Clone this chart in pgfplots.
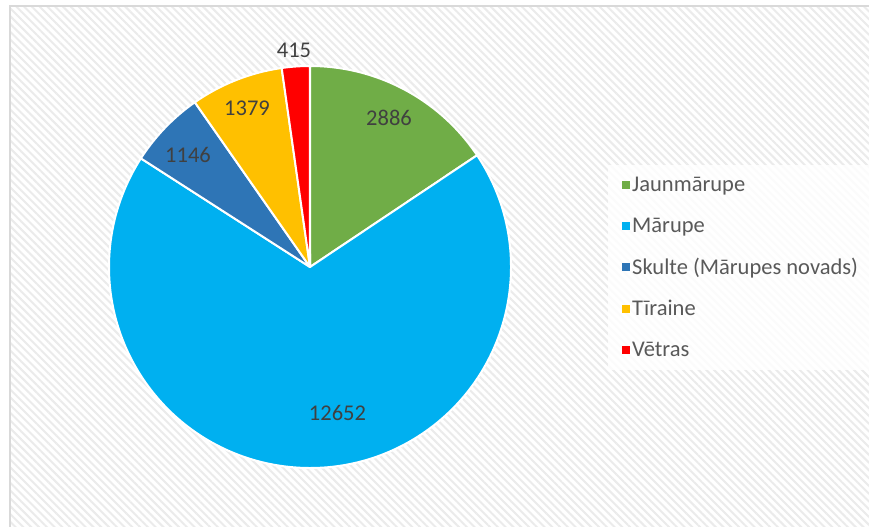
\documentclass[border=0pt]{standalone}
\usepackage{pgfplots}
\pgfplotsset{compat=1.18}
\usepackage{pgfplotstable}
\usepackage{fontspec}
\setmainfont{Carlito}
\usetikzlibrary{patterns.meta}
\definecolor{c0}{HTML}{70AD47}
\definecolor{c1}{HTML}{00B0F0}
\definecolor{c2}{HTML}{2E75B6}
\definecolor{c3}{HTML}{FFC000}
\definecolor{c4}{HTML}{FF0000}
\definecolor{lbl}{HTML}{404040}
\definecolor{leg}{HTML}{595959}
\definecolor{frame}{HTML}{D9D9D9}

\pgfplotstableread{
idx value
0 2886
1 12652
2 1146
3 1379
4 415
}\pietable

\begin{document}
\begin{tikzpicture}
% compute slice angles from the table (values scaled by 1/1000 to stay in range)
\pgfmathsetmacro\total{0}
\pgfplotsforeachungrouped \i in {0,...,4}{%
  \pgfplotstablegetelem{\i}{value}\of\pietable
  \pgfmathsetmacro\total{\total+\pgfplotsretval/1000}%
}
\def\cur{90}
\pgfplotsforeachungrouped \i in {0,...,4}{%
  \pgfplotstablegetelem{\i}{value}\of\pietable
  \pgfmathsetmacro\ang{(\pgfplotsretval/1000)/\total*360}%
  \expandafter\xdef\csname sa\i\endcsname{\cur}%
  \pgfmathsetmacro\cur{\cur-\ang}%
  \expandafter\xdef\csname ea\i\endcsname{\cur}%
}
\begin{axis}[
  name=main,
  width=869bp, height=527bp, scale only axis,
  xmin=-310, xmax=559, ymin=-260, ymax=267,
  hide axis, ticks=none, clip=false,
  legend image code/.code={\fill[#1] (1bp,-4bp) rectangle (9bp,4bp);},
  legend cell align=left,
  legend style={
    at={(axis cs:298,102)}, anchor=north west,
    draw=none, fill=none,
    inner xsep=14bp, inner ysep=10bp,
    font=\fontsize{22.5bp}{25bp}\selectfont, text=leg,
    row sep=20.5bp,
  },
]
% background
\fill[white] (rel axis cs:0,0) rectangle (rel axis cs:1,1);
\fill[pattern={Lines[angle=-45,distance=5.5bp,line width=2bp]}, pattern color=gray!16]
  (axis cs:-300.5,-260) rectangle (axis cs:559,261);
\draw[frame, line width=2bp] (axis cs:-300.5,-260) -- (axis cs:-300.5,261) -- (axis cs:559,261);
% legend panel
\fill[white, opacity=0.8] (axis cs:298,102) rectangle (axis cs:559,-103);

\addlegendimage{fill=c0,draw=none}\addlegendentry{Jaunmārupe}
\addlegendimage{fill=c1,draw=none}\addlegendentry{Mārupe}
\addlegendimage{fill=c2,draw=none}\addlegendentry{Skulte (Mārupes novads)}
\addlegendimage{fill=c3,draw=none}\addlegendentry{Tīraine}
\addlegendimage{fill=c4,draw=none}\addlegendentry{Vētras}

\pgfplotsinvokeforeach{0,...,4}{%
  \filldraw[fill=c#1, draw=white, line width=2bp, line join=round]
    (axis cs:0,0) -- ++(\csname sa#1\endcsname:201bp)
    arc[start angle=\csname sa#1\endcsname, end angle=\csname ea#1\endcsname, radius=201bp] -- cycle;
}

\node[text=lbl, font=\fontsize{22.5bp}{25bp}\selectfont] at (axis cs:79,149) {2886};
\node[text=lbl, font=\fontsize{22.5bp}{25bp}\selectfont] at (axis cs:27.5,-146) {12652};
\node[text=lbl, font=\fontsize{22.5bp}{25bp}\selectfont] at (axis cs:-122,112) {1146};
\node[text=lbl, font=\fontsize{22.5bp}{25bp}\selectfont] at (axis cs:-63,159) {1379};
\node[text=lbl, font=\fontsize{22.5bp}{25bp}\selectfont] at (axis cs:-16,217) {415};
\end{axis}
\pgfresetboundingbox
\path[use as bounding box] (main.south west) rectangle (main.north east);
\end{tikzpicture}
\end{document}
